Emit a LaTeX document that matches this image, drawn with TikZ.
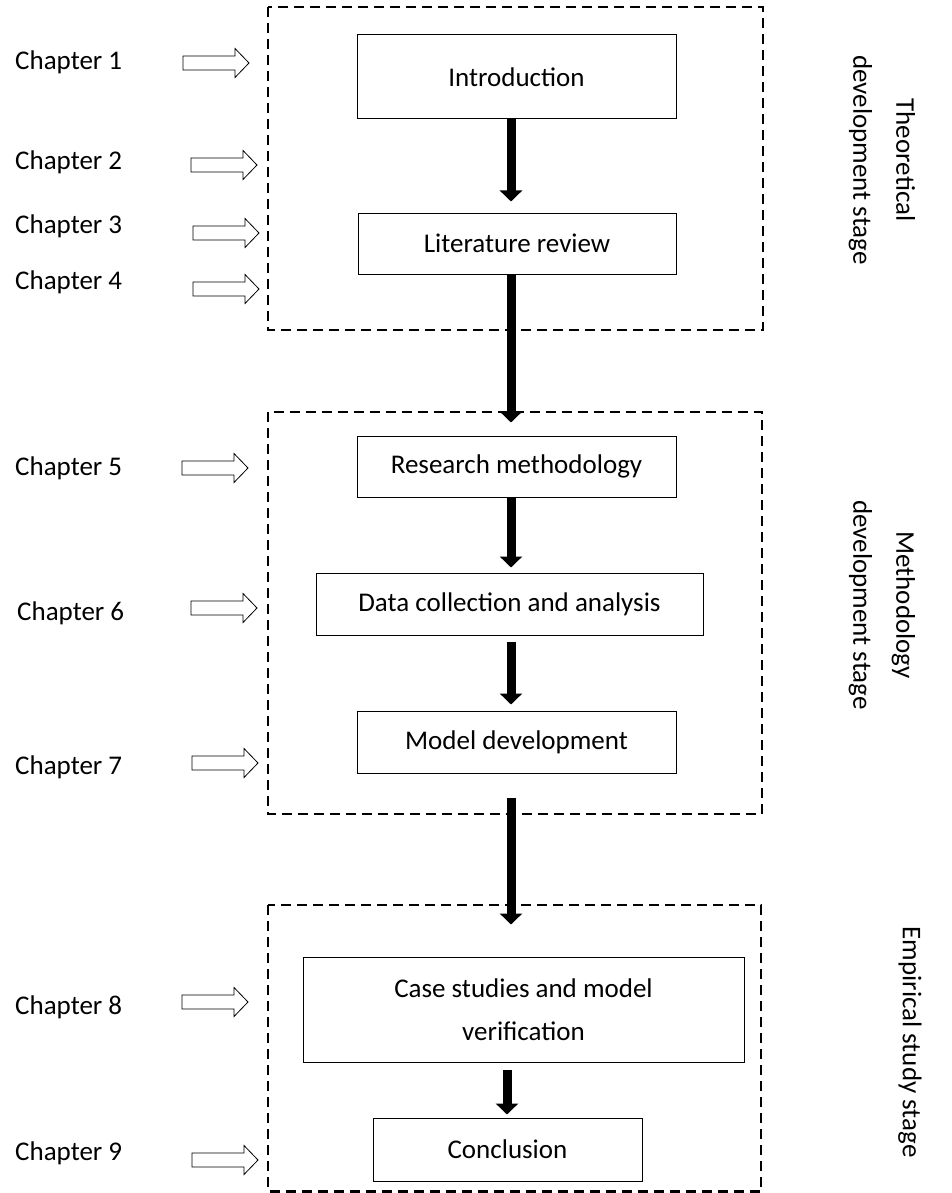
\documentclass[tikz,border=0pt]{standalone}
\usepackage{fontspec}
\setmainfont{Carlito}
\usetikzlibrary{arrows.meta,calc}
\begin{document}
\begin{tikzpicture}[x=1pt,y=-1pt,
  box/.style={draw=black, line width=1pt, inner sep=0pt, align=center, font=\fontsize{27}{43}\selectfont},
  stagebox/.style={draw=black, line width=2.5pt, dash pattern=on 10pt off 6pt},
  chap/.style={anchor=west, inner sep=0pt, font=\fontsize{27}{33}\selectfont},
  stagelabel/.style={rotate=-90, align=center, inner sep=0pt, font=\fontsize{27}{43}\selectfont},
  flow/.style={line width=9pt, -{Triangle[width=22pt,length=11pt]}},
  pics/chaparrow/.style={code={\draw[line width=0.8pt, fill=white, line join=miter] (0,-7) -- (52,-7) -- (52,-14.5) -- (66,0) -- (52,14.5) -- (52,7) -- (0,7) -- cycle;}}
]
\useasboundingbox (0,0) rectangle (952,1193);

% stage frames
\draw[stagebox] (268,7) rectangle (763,330);
\draw[stagebox] (268,412) rectangle (762,814);
\draw[stagebox] (268,905) rectangle (761,1191.5);

% process boxes
\node[box, minimum width=319pt, minimum height=84pt] (intro) at (516.5,77) {Introduction};
\node[box, minimum width=318pt, minimum height=61pt] (lit) at (517,243.5) {Literature review};
\node[box, minimum width=319pt, minimum height=61pt] (res) at (516.5,466.5) {Research methodology};
\node[box, minimum width=387pt, minimum height=62pt] (data) at (509.5,604) {Data collection and analysis};
\node[box, minimum width=319pt, minimum height=62pt] (model) at (516.5,742) {Model development};
\node[box, minimum width=441pt, minimum height=105pt] (case) at (523.5,1009.5) {Case studies and model\\verification};
\node[box, minimum width=269pt, minimum height=63pt] (concl) at (507.5,1149.5) {Conclusion};

% flow arrows
\coordinate (sp) at (511,0);
\coordinate (sp2) at (507,0);
\draw[flow] (intro.south -| sp) -- ([yshift=11pt]lit.north -| sp);
\draw[flow] (lit.south -| sp) -- ([yshift=13pt]res.north -| sp);
\draw[flow] (res.south -| sp) -- ([yshift=5pt]data.north -| sp);
\draw[flow] ([yshift=-6pt]data.south -| sp) -- ([yshift=6pt]model.north -| sp);
\draw[flow] ([yshift=-24pt]model.south -| sp) -- ([yshift=32pt]case.north -| sp);
\draw[flow] ([yshift=-7pt]case.south -| sp2) -- ([yshift=3pt]concl.north -| sp2);

% chapter labels
\node[chap] (ch1) at (15,62) {Chapter 1};
\node[chap] (ch2) at (15,162) {Chapter 2};
\node[chap] (ch3) at (15,226) {Chapter 3};
\node[chap] (ch4) at (15,282) {Chapter 4};
\node[chap] (ch5) at (15,468) {Chapter 5};
\node[chap] (ch6) at (17,613) {Chapter 6};
\node[chap] (ch7) at (15,767) {Chapter 7};
\node[chap] (ch8) at (15,1007) {Chapter 8};
\node[chap] (ch9) at (15,1153) {Chapter 9};

% hollow chapter arrows
\pic at (183,63) {chaparrow};
\pic at (191,165) {chaparrow};
\pic at (193,233) {chaparrow};
\pic at (193,289) {chaparrow};
\pic at (182,468) {chaparrow};
\pic at (191,608) {chaparrow};
\pic at (192,763) {chaparrow};
\pic at (182,1002) {chaparrow};
\pic at (192,1160) {chaparrow};

% stage labels
\node[stagelabel] (st1) at (882,160) {Theoretical\\development stage};
\node[stagelabel] (st2) at (882,605) {Methodology\\development stage};
\node[stagelabel] (st3) at (910,1042) {Empirical study stage};
\end{tikzpicture}
\end{document}
